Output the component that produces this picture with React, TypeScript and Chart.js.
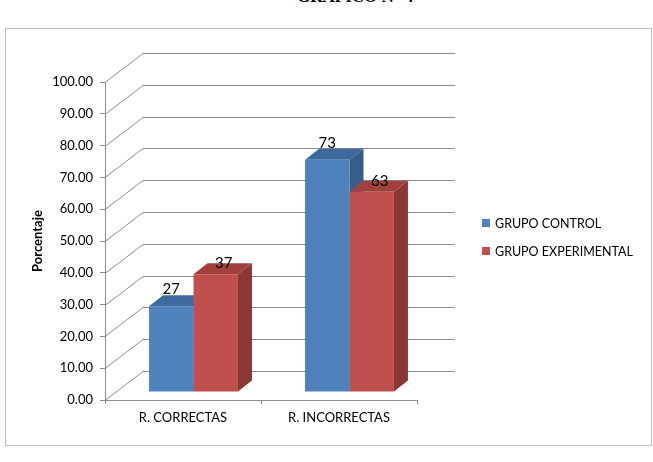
import React, { useEffect, useRef } from "react";
import { Chart, registerables } from "chart.js";

Chart.register(...registerables);

// ---- data ----
const categories = ["R. CORRECTAS", "R. INCORRECTAS"];
const seriesNames = ["GRUPO CONTROL", "GRUPO EXPERIMENTAL"];
const controlValues = [27, 73];
const experimentalValues = [37, 63];
const yTickValues = [0, 10, 20, 30, 40, 50, 60, 70, 80, 90, 100];
const yAxisTitle = "Porcentaje";
const pageTitle = "GRÁFICO N° 4";

// ---- styles ----
const FRONT = ["#4F81BD", "#C0504D"];
const TOP = ["#3D6A9E", "#A1403D"];
const SIDE = ["#385D8A", "#8A3735"];
const GRID = "#8C8C8C";
const AXIS = "#8C8C8C";
const FONT = "Lato";
const LEGEND_SIZE = 12.5;
const LEGEND_BOX_X = 482;
const LEGEND_FIRST_Y = 223;
const LEGEND_STEP = 28;
const LEGEND_BOX = 8;
const WALL_DX = 38;
const WALL_DY = -29;
const BAR_DX = 10.5;
const BAR_DY = -8;
const DEPTH_DX = 14;
const DEPTH_DY = -11;
const LABEL_OFF = [
  { dx: 0, dy: -17 },
  { dx: 8, dy: -11 },
];

const threeD = {
  id: "threeD",
  beforeDatasetsDraw(chart: any) {
    const { ctx, chartArea } = chart;
    const ys = chart.scales.y;
    ctx.save();
    ctx.strokeStyle = GRID;
    ctx.lineWidth = 1;
    ys.ticks.forEach((t: any) => {
      const py = Math.round(ys.getPixelForValue(t.value)) + 0.5;
      ctx.beginPath();
      ctx.moveTo(chartArea.left, py);
      ctx.lineTo(chartArea.left + WALL_DX, py + WALL_DY);
      ctx.lineTo(chartArea.right + WALL_DX, py + WALL_DY);
      ctx.stroke();
    });
    ctx.restore();

    ctx.save();
    ctx.translate(BAR_DX, BAR_DY);
    chart.data.datasets.forEach((_ds: any, di: number) => {
      const meta = chart.getDatasetMeta(di);
      meta.data.forEach((bar: any) => {
        const { x, y, base, width } = bar.getProps(["x", "y", "base", "width"], true);
        const l = x - width / 2;
        const r = x + width / 2;
        ctx.fillStyle = SIDE[di];
        ctx.beginPath();
        ctx.moveTo(r, y);
        ctx.lineTo(r + DEPTH_DX, y + DEPTH_DY);
        ctx.lineTo(r + DEPTH_DX, base + DEPTH_DY);
        ctx.lineTo(r, base);
        ctx.closePath();
        ctx.fill();
        ctx.fillStyle = TOP[di];
        ctx.beginPath();
        ctx.moveTo(l, y);
        ctx.lineTo(l + DEPTH_DX, y + DEPTH_DY);
        ctx.lineTo(r + DEPTH_DX, y + DEPTH_DY);
        ctx.lineTo(r, y);
        ctx.closePath();
        ctx.fill();
      });
    });
  },
  afterDatasetsDraw(chart: any) {
    const { ctx } = chart;
    ctx.restore();
    ctx.save();
    ctx.fillStyle = "#000";
    ctx.font = `15px ${FONT}`;
    ctx.textAlign = "center";
    ctx.textBaseline = "middle";
    chart.data.datasets.forEach((ds: any, di: number) => {
      const meta = chart.getDatasetMeta(di);
      meta.data.forEach((bar: any, i: number) => {
        const { x, y } = bar.getProps(["x", "y"], true);
        ctx.fillText(
          String(ds.data[i]),
          x + BAR_DX + LABEL_OFF[di].dx,
          y + BAR_DY + LABEL_OFF[di].dy
        );
      });
    });
    ctx.restore();
  },
  afterDraw(chart: any) {
    const { ctx } = chart;
    const items = Chart.defaults.plugins.legend.labels.generateLabels(chart);
    ctx.save();
    ctx.font = `${LEGEND_SIZE}px ${FONT}`;
    ctx.textAlign = "left";
    ctx.textBaseline = "middle";
    items.forEach((it: any, i: number) => {
      const cy = LEGEND_FIRST_Y + i * LEGEND_STEP;
      ctx.fillStyle = it.fillStyle;
      ctx.fillRect(LEGEND_BOX_X, cy - LEGEND_BOX / 2, LEGEND_BOX, LEGEND_BOX);
      ctx.fillStyle = "#000";
      ctx.fillText(it.text, LEGEND_BOX_X + LEGEND_BOX + 5, cy + 0.5);
    });
    ctx.restore();
  },
};

export default function App() {
  const ref = useRef<HTMLCanvasElement | null>(null);

  useEffect(() => {
    if (!ref.current) return;
    const chart = new Chart(ref.current, {
      type: "bar",
      data: {
        labels: categories,
        datasets: [
          {
            label: seriesNames[0],
            data: controlValues,
            backgroundColor: FRONT[0],
            borderWidth: 0,
            clip: false as any,
          },
          {
            label: seriesNames[1],
            data: experimentalValues,
            backgroundColor: FRONT[1],
            borderWidth: 0,
            clip: false as any,
          },
        ],
      },
      options: {
        responsive: false,
        animation: false,
        devicePixelRatio: 1,
        datasets: { bar: { categoryPercentage: 0.57, barPercentage: 1 } },
        layout: { padding: { left: 30, top: 82, right: 653 - 417, bottom: 32 } },
        scales: {
          x: {
            grid: {
              offset: true,
              drawOnChartArea: false,
              drawTicks: true,
              tickLength: 4,
              color: AXIS,
            },
            border: { display: true, color: AXIS },
            ticks: { font: { family: FONT, size: 13 }, color: "#000", padding: 6 },
            afterFit: (s: any) => {
              s.height = 30;
            },
          },
          y: {
            min: 0,
            max: 100,
            afterBuildTicks: (s: any) => {
              s.ticks = yTickValues.map((v) => ({ value: v }));
            },
            ticks: {
              callback: (v: any) => Number(v).toFixed(2),
              font: { family: FONT, size: 13 },
              color: "#000",
              padding: 7,
            },
            grid: {
              drawOnChartArea: false,
              drawTicks: true,
              tickLength: 5,
              color: AXIS,
            },
            border: { display: true, color: AXIS },
            title: {
              display: true,
              text: yAxisTitle,
              font: { family: FONT, size: 13, weight: "bold" },
              color: "#000",
              padding: 0,
            },
            afterFit: (s: any) => {
              s.width = 75;
            },
          },
        },
        plugins: {
          legend: { display: false },
          tooltip: { enabled: false },
        },
      } as any,
      plugins: [threeD],
    });
    return () => chart.destroy();
  }, []);

  return (
    <div
      style={{
        position: "fixed",
        left: 0,
        top: 0,
        width: 653,
        height: 462,
        background: "#fff",
        overflow: "hidden",
      }}
    >
      <div
        style={{
          position: "absolute",
          left: 297,
          top: -12,
          whiteSpace: "nowrap",
          font: "bold 17px 'Liberation Serif'",
          lineHeight: "17px",
          color: "#000",
        }}
      >
        {pageTitle}
      </div>
      <div
        style={{
          position: "absolute",
          left: 5,
          top: 28,
          width: 647,
          height: 418,
          boxSizing: "border-box",
          border: "1px solid #BDBDBD",
        }}
      />
      <canvas
        ref={ref}
        width={653}
        height={462}
        style={{ position: "absolute", left: 0, top: 0 }}
      />
    </div>
  );
}
